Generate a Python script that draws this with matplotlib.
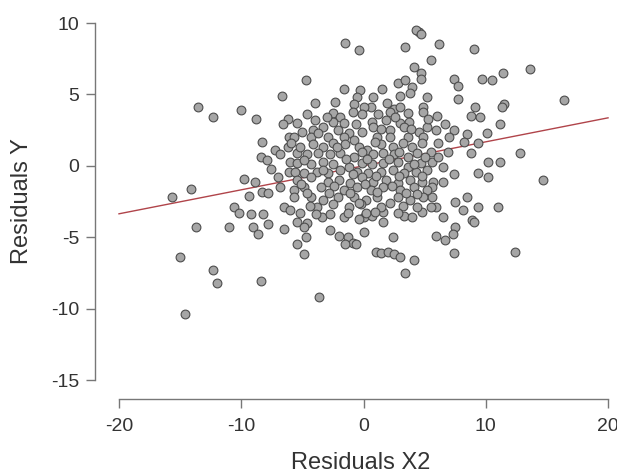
import matplotlib
matplotlib.use("Agg")
import matplotlib.pyplot as plt

# partial regression residuals
resid_x2 = [
    4.5, 4.3, 4.7, -1.5, -0.4, 3.4, 6.2, 5.5, 4.1, 4.7, 4.7, -4.7, -1.6, -0.3, -0.5, 1.5,
    2.8, 3.4, 4.0, 3.8, 5.2, 4.9, 0.8, 0.6, -0.8, -0.9, 0.0, 2.5, 3.0, 1.2, -2.5, -1.9, -4.6,
    -13.5, -12.3, -10.0, -6.7, -8.8, -6.2,
    9.0, 13.6, 11.4, 7.4, 7.7, 9.7, 10.5, 7.7, 16.4, 11.5, 11.3, 9.1, 8.8, 9.5,
    -8.3, -8.4, -7.9, -7.6, -7.2, -6.6, -6.1, -6.2, -6.0, -5.4, -6.1, -5.6, -9.8, -14.1,
    -15.7, -9.4, -8.3, -7.8, -6.8, -5.7, -5.7, -10.6, -10.2, -9.2, -8.2, -6.5, -6.0,
    11.2, 5.9, 6.7, 7.4, 8.5, 10.1, 8.2, 9.4, 6.1, 6.9, 8.8, 12.8, 10.2, 11.2, 6.5, 7.4,
    9.4, 10.2, 14.7, 5.7, 6.5, 5.6, 5.6, 7.5, 8.5, 8.1, 9.4, 11.0, 5.9, 6.5, 8.9,
    -13.7, -11.0, -9.0, -8.6, -7.8, -6.5, -5.4, -5.4, -15.0, -12.3, -12.0, -8.4, -14.6,
    -4.6, -4.9, -3.4, -1.6, 0.0, 0.7, 1.6, 1.6, 3.3, 4.8, -2.7, -2.0, -1.3, -0.9, -1.5,
    -0.6, 0.0, -4.7, -4.9, 2.4, 1.0, 1.4, 2.0, 2.5, 3.0, 4.1, 3.4, -3.6,
    9.0, 7.5, 7.3, 5.9, 6.7, 7.4, 12.4,
    -0.1, 2.2, 3.6, 4.9, -2.5, -1.6, 0.7, 3.0, 3.7, -5.4,
    -5.0, -4.1, -3.3, -2.1, -1.2, -0.1, 0.8, 2.2, 3.3, 4.5, 5.2, -5.7, -4.3, -2.9, -1.6,
    -0.8, 1.1, 2.2, 3.6, 4.9,
    -5.2, -4.1, -3.3, -2.5, -1.5, -0.4, 0.3, 1.4, 2.4, 3.2, 4.0, 4.8, 5.5, -4.6, -3.7,
    -2.7, -1.9, -0.8, 0.8, 1.6, 2.5, 3.6, 4.4,
    -5.4, -4.3, -3.3, -2.5, -1.2, -0.1, 0.7, 1.6, 2.8, 3.6, 4.7, 5.6, -4.9, -3.8, -2.9,
    -1.9, -0.5, 0.4, 1.4, 2.4, 3.3, 4.3, 5.2,
    -5.4, -4.3, -2.9, -2.0, -1.1, -0.1, 0.8, 1.8, 2.8, 3.8, 4.8, -4.9, -3.5, -1.6, -0.5,
    0.6, 1.6, 3.0, 4.1, 5.2,
    -4.3, -3.3, -2.1, -0.8, 0.2, 1.1, 2.8, 3.8, 4.9, -3.8, -2.5, -1.2, -0.2, 1.4, 2.2,
    4.4, 5.5,
    -5.2, -2.7, -1.3, 0.2,
    # denser middle of the cloud
    -4.0, -3.0, 1.8, 2.6, 5.3, -3.7, -0.6, 1.4, 3.9, -5.9, -2.2, 0.9, -0.1, 2.9, 5.0,
    -4.9, -1.4, 0.3, 2.1, 4.1, -3.3, -0.9, 1.0, 2.9, 4.8, -5.1, -2.4, 0.1, 2.3, 3.5,
    -4.6, -1.1, 1.1, 4.4, -2.8, -0.4, 3.2, -4.4, 0.9, 2.8, -3.9, -0.4, 4.0, 6.1, 7.0,
    6.0, -7.0, -6.8, -8.9, -4.0, 1.9, 3.0, -2.3,
]
resid_y = [
    9.4, 9.5, 9.2, 8.6, 8.1, 8.3, 8.5, 7.4, 6.9, 6.5, 6.1, 6.0, 5.4, 5.3, 4.8, 5.4,
    5.8, 6.0, 5.5, 5.1, 4.8, 4.1, 4.8, 4.1, 4.3, 3.8, 4.1, 4.0, 4.1, 3.6, 3.7, 3.4, 3.6,
    4.1, 3.4, 3.9, 4.9, 3.3, 3.3,
    8.2, 6.8, 6.5, 6.1, 5.6, 6.1, 6.0, 4.7, 4.6, 4.3, 4.1, 4.1, 3.5, 3.4,
    1.7, 0.6, 0.4, -0.2, 1.1, 2.9, 2.0, 1.3, 0.3, 0.9, -0.4, -0.4, -0.9, -1.6,
    -2.2, -2.1, -1.8, -1.9, -1.5, -1.7, -2.2, -2.9, -3.3, -3.4, -3.4, -2.9, -3.1,
    2.9, 2.5, 2.9, 2.5, 2.2, 2.3, 1.7, 1.6, 1.6, 1.0, 0.9, 0.9, 0.3, 0.3, -0.1, -0.6,
    -0.5, -0.8, -1.0, -1.1, -1.1, -1.5, -2.2, -2.5, -2.2, -3.1, -2.9, -2.9, -2.9, -3.6, -3.8,
    -4.3, -4.3, -4.3, -4.8, -4.1, -4.4, -3.9, -5.5, -6.4, -7.3, -8.2, -8.1, -10.4,
    -4.0, -4.3, -3.6, -3.6, -3.6, -3.5, -3.9, -3.2, -3.5, -3.2, -4.5, -4.9, -5.0, -5.4, -5.5,
    -5.5, -4.6, -5.0, -6.2, -5.0, -6.0, -6.1, -6.0, -6.2, -6.4, -6.6, -7.5, -9.2,
    -3.9, -4.3, -4.8, -4.9, -5.2, -6.1, -6.0,
    3.6, 3.8, 3.7, 3.8, 3.1, 3.0, 3.1, 3.0, 3.1, 3.0,
    2.4, 2.5, 2.7, 2.5, 2.3, 2.4, 2.7, 2.5, 2.7, 2.4, 2.7, 2.0, 2.0, 2.0, 2.0,
    1.8, 2.0, 2.0, 2.0, 2.0,
    1.3, 1.5, 1.3, 1.6, 1.5, 1.3, 1.1, 1.5, 1.3, 1.6, 1.3, 1.6, 1.0, 0.8, 0.9,
    0.8, 0.9, 0.6, 0.8, 0.9, 0.8, 0.6, 0.9,
    0.2, 0.1, 0.3, 0.1, -0.1, 0.2, 0.1, 0.2, 0.3, -0.1, 0.2, 0.3, -0.5, -0.4, -0.5,
    -0.3, -0.4, -0.5, -0.4, -0.3, -0.5, -0.4, -0.3,
    -1.0, -0.8, -1.1, -1.0, -1.2, -0.8, -1.1, -1.0, -1.2, -1.0, -1.1, -1.5, -1.5, -1.7, -1.5,
    -1.7, -1.5, -1.7, -1.5, -1.7,
    -2.2, -2.4, -2.2, -2.2, -2.4, -2.2, -2.2, -2.4, -2.2, -2.9, -2.7, -2.9, -2.7, -2.9, -2.6,
    -2.9, -2.9,
    -3.3, -3.4, -3.3, -3.3,
    # denser middle of the cloud
    3.2, 3.4, 3.2, 3.4, 3.3, 2.3, 2.9, 2.6, 2.6, 1.6, 1.3, 1.7, 1.0, 1.0, 0.6,
    0.4, 0.5, 0.5, 0.5, 0.1, -0.3, -0.6, -0.7, -0.7, -0.7, -1.3, -1.4, -1.3, -1.4, -1.9,
    -1.9, -1.9, -1.8, -2.0, -1.9, -2.6, -2.8, -2.8, -3.2, -3.3, -3.4, -3.7, -3.6, 0.6, 2.0,
    3.5, -0.8, 0.8, -1.1, 4.4, 4.4, 4.9, 4.5,
]

# fitted line (added-variable slope)
line_x = [-20, 20]
slope = 0.168
line_y = [slope * v for v in line_x]

x_ticks = [-20, -10, 0, 10, 20]
y_ticks = [-15, -10, -5, 0, 5, 10]

plt.rcParams['font.family'] = ['Liberation Sans', 'DejaVu Sans']
plt.rcParams['axes.unicode_minus'] = False

fig = plt.figure(figsize=(6.17, 4.73), dpi=100)
ax = fig.add_axes([0.154, 0.1564, 0.8703, 0.8351])

ax.scatter(resid_x2, resid_y, s=40, facecolor='#a6a6a6', edgecolor='#4d4d4d',
           linewidths=0.8, zorder=3)
ax.plot(line_x, line_y, color='#b0444a', linewidth=1.0, zorder=2)

ax.set_xlim(-21.96, 21.96)
ax.set_ylim(-16.33, 11.33)
ax.set_xticks(x_ticks)
ax.set_yticks(y_ticks)

for side in ['top', 'right']:
    ax.spines[side].set_visible(False)
ax.spines['left'].set_bounds(-15, 10)
ax.spines['bottom'].set_bounds(-20, 20)
for side in ['left', 'bottom']:
    ax.spines[side].set_color('#777777')
    ax.spines[side].set_linewidth(1.0)

ax.tick_params(direction='out', length=6.5, width=1.0, color='#777777',
               labelsize=14, labelcolor='#333333', pad=5)
ax.tick_params(axis='x', pad=7)

ax.set_xlabel('Residuals X2', fontsize=17, color='#333333')
ax.set_ylabel('Residuals Y', fontsize=17, color='#333333')
ax.xaxis.set_label_coords(0.495, -0.134)
ax.yaxis.set_label_coords(-0.115, 0.5)

fig.savefig('out.png', dpi=100)
